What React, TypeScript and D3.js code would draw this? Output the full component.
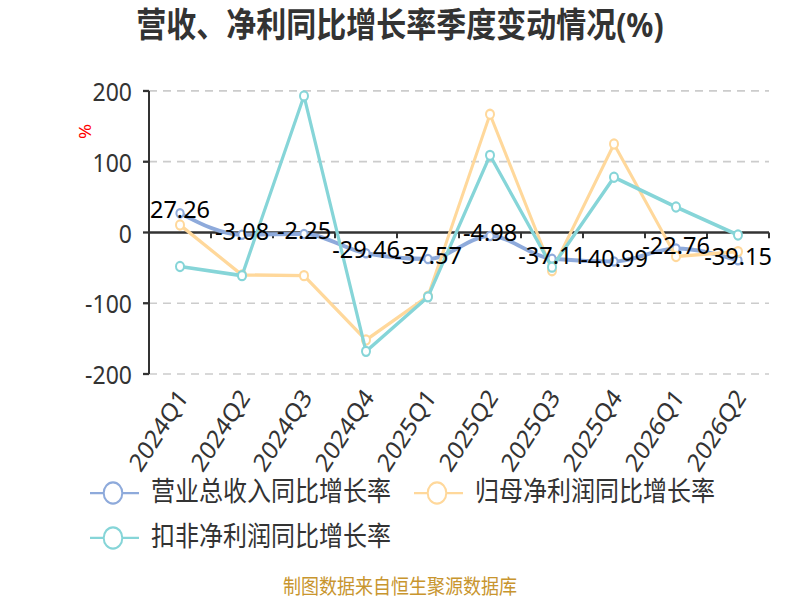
import * as d3 from "d3";

// quarter labels and yoy growth rates (%)
const quarters = ["2024Q1", "2024Q2", "2024Q3", "2024Q4", "2025Q1", "2025Q2", "2025Q3", "2025Q4", "2026Q1", "2026Q2"];
const revenueGrowth = [27.26, -3.08, -2.25, -29.46, -37.57, -4.98, -37.11, -40.99, -22.76, -39.15];
const netProfitGrowth = [10.6, -60, -61, -152, -90, 167, -54, 125, -34, -27];
const deductedProfitGrowth = [-48, -61, 193, -168, -91, 109, -49, 78, 36, -3.5];
const yTicks = [-200, -100, 0, 100, 200];
const seriesNames = ["营业总收入同比增长率", "归母净利润同比增长率", "扣非净利润同比增长率"];
const seriesColors = ["#8EAADB", "#FFD89B", "#86D5D8"];

const W = 800;
const VH = 525; // drawing space, stretched to 600px tall
const S = 600 / VH;
const FONT = "'Noto Sans', 'Noto Sans CJK SC', sans-serif";

export default function App() {
  const x = d3.scaleBand<string>().domain(quarters).range([149, 769]);
  const y = d3.scaleLinear().domain([-200, 200]).range([327.25, 79.6]);
  const cx = (q: string) => (x(q) ?? 0) + x.bandwidth() / 2;

  const smooth = d3
    .line<number>()
    .x((_, i) => cx(quarters[i]))
    .y((d) => y(d))
    .curve(d3.curveMonotoneX);
  const straight = d3
    .line<number>()
    .x((_, i) => cx(quarters[i]))
    .y((d) => y(d));

  const series = [
    { values: revenueGrowth, path: smooth, width: 3.5, r: 3.6 },
    { values: netProfitGrowth, path: straight, width: 3, r: 4 },
    { values: deductedProfitGrowth, path: straight, width: 3.2, r: 4 },
  ];

  const boundaries = [...quarters.map((q) => x(q) ?? 0), x.range()[1]];

  const legendItems = [
    { x: 90, y: 431.4, textY: 438.5 },
    { x: 414, y: 431.4, textY: 438.5 },
    { x: 90, y: 470.7, textY: 478 },
  ];

  return (
    <div style={{ position: "absolute", left: 0, top: 0 }}>
      <svg
        width={W}
        height={600}
        viewBox={`0 0 ${W} ${VH}`}
        preserveAspectRatio="none"
        style={{ display: "block", background: "#fff" }}
        fontFamily={FONT}
      >
        <text x={400} y={32} textAnchor="middle" fontSize={30} fontWeight="bold" fill="#333">
          营收、净利同比增长率季度变动情况(%)
        </text>

        {/* grid */}
        {yTicks
          .filter((t) => t !== 0)
          .map((t) => (
            <line
              key={t}
              x1={149}
              x2={769}
              y1={y(t)}
              y2={y(t)}
              stroke="#ccc"
              strokeWidth={1.5}
              strokeDasharray="8 6"
            />
          ))}

        {/* y axis */}
        <line x1={149} x2={149} y1={y(200)} y2={y(-200)} stroke="#333" strokeWidth={2} />
        {yTicks.map((t) => (
          <g key={t}>
            <line x1={143} x2={149} y1={y(t)} y2={y(t)} stroke="#333" strokeWidth={2} />
            <text x={132} y={y(t)} textAnchor="end" dominantBaseline="central" fontSize={23} fill="#333">
              {t}
            </text>
          </g>
        ))}
        <text
          transform={`translate(91, 115) rotate(-90)`}
          textAnchor="middle"
          fontSize={16}
          fill="#ff0000"
        >
          %
        </text>

        {/* x axis on zero */}
        <line x1={149} x2={769} y1={y(0)} y2={y(0)} stroke="#333" strokeWidth={2} />
        {boundaries.map((b, i) => (
          <line key={i} x1={b} x2={b} y1={y(0)} y2={y(0) + 5} stroke="#333" strokeWidth={2} />
        ))}
        {quarters.map((q) => (
          <text
            key={q}
            transform={`translate(${cx(q) + 9}, 348) rotate(-54)`}
            textAnchor="end"
            fontSize={22.5}
            fill="#333"
          >
            {q}
          </text>
        ))}

        {/* series */}
        {series.map((s, si) => (
          <g key={si}>
            <path d={s.path(s.values) ?? ""} fill="none" stroke={seriesColors[si]} strokeWidth={s.width} />
            {s.values.map((v, i) => (
              <circle
                key={i}
                cx={cx(quarters[i])}
                cy={y(v)}
                r={s.r}
                fill="#fff"
                stroke={seriesColors[si]}
                strokeWidth={2}
              />
            ))}
          </g>
        ))}

        {/* labels for revenue growth */}
        {revenueGrowth.map((v, i) => (
          <text
            key={i}
            transform={`translate(${cx(quarters[i])}, ${y(v) + 4.4}) scale(1, ${1 / S})`}
            textAnchor="middle"
            fontSize={23.5}
            fill="#000"
          >
            {v}
          </text>
        ))}

        {/* legend */}
        {legendItems.map((it, i) => (
          <g key={i}>
            <line x1={it.x} x2={it.x + 49} y1={it.y} y2={it.y} stroke={seriesColors[i]} strokeWidth={2} />
            <circle cx={it.x + 23} cy={it.y} r={9.3} fill="#fff" stroke={seriesColors[i]} strokeWidth={2} />
            <text x={it.x + 61} y={it.textY} fontSize={24} fill="#333">
              {seriesNames[i]}
            </text>
          </g>
        ))}

        <text x={400} y={520} textAnchor="middle" fontSize={18} fill="#C8952E">
          制图数据来自恒生聚源数据库
        </text>
      </svg>
    </div>
  );
}
